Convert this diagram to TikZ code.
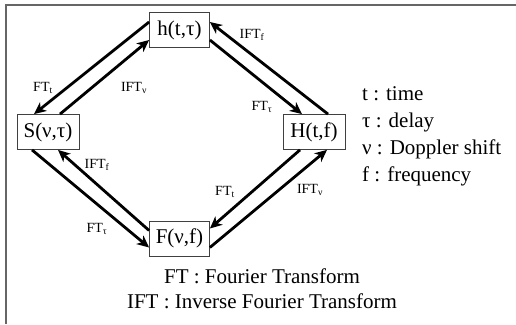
\documentclass[tikz,border=0pt]{standalone}
\usepackage{fontspec}
\setmainfont{Liberation Serif}
\usetikzlibrary{arrows.meta,calc}
\begin{document}
\begin{tikzpicture}[x=1pt,y=-1pt,
  box/.style={draw=black!75, line width=0.8pt, minimum width=60pt, minimum height=35pt, inner sep=0pt, font=\fontsize{21}{24}\selectfont, fill=white},
  conn/.style={line width=2.8pt, -{Stealth[length=12pt,width=11pt,inset=3.5pt]}},
  lbl/.style={font=\fontsize{14}{16}\selectfont, inner sep=0pt},
  leg/.style={font=\fontsize{21}{24}\selectfont, anchor=base west, inner sep=0pt}]
\useasboundingbox (0,0) rectangle (516,324);
\draw[black!60, line width=1.6pt] (6,324) -- (6,5) -- (516,5);

\node[box] (h) at (179.5,30) {h(t,τ)};
\node[box, minimum width=62pt] (S) at (48,132) {S(ν,τ)};
\node[box, minimum width=62pt] (H) at (314,132) {H(t,f)};
\node[box] (F) at (179.5,238.5) {F(ν,f)};

\draw[conn] ([yshift=8pt]h.west) -- ([xshift=-14pt]S.north);
\draw[conn] ([xshift=12pt]S.north) -- ([yshift=-10pt]h.west);
\draw[conn] ([xshift=14pt]H.north) -- ([yshift=8pt]h.east);
\draw[conn] ([yshift=-10pt]h.east) -- ([xshift=-12pt]H.north);
\draw[conn] ([xshift=-16pt]S.south) -- ([yshift=-9pt]F.west);
\draw[conn] ([yshift=8pt]F.west) -- ([xshift=10pt]S.south);
\draw[conn] ([xshift=-14pt]H.south) -- ([yshift=10pt]F.east);
\draw[conn] ([yshift=-9pt]F.east) -- ([xshift=13pt]H.south);

\node[lbl] (l1) at (43,88) {FT\textsubscript{t}};
\node[lbl] (l2) at (134,88) {IFT\textsubscript{ν}};
\node[lbl] (l3) at (252,35) {IFT\textsubscript{f}};
\node[lbl] (l4) at (262,107) {FT\textsubscript{τ}};
\node[lbl] (l5) at (97,165) {IFT\textsubscript{f}};
\node[lbl] (l6) at (97,229) {FT\textsubscript{τ}};
\node[lbl] (l7) at (225,192) {FT\textsubscript{t}};
\node[lbl] (l8) at (310,190) {IFT\textsubscript{ν}};

\node[leg] (t1) at (362,100) {t : time};
\node[leg] (t2) at (362,127) {τ : delay};
\node[leg] (t3) at (362,154) {ν : Doppler shift};
\node[leg] (t4) at (362,181) {f : frequency};

\node[leg, anchor=base] (b1) at (262,283) {FT : Fourier Transform};
\node[leg, anchor=base] (b2) at (262,308) {IFT : Inverse Fourier Transform};
\end{tikzpicture}
\end{document}
